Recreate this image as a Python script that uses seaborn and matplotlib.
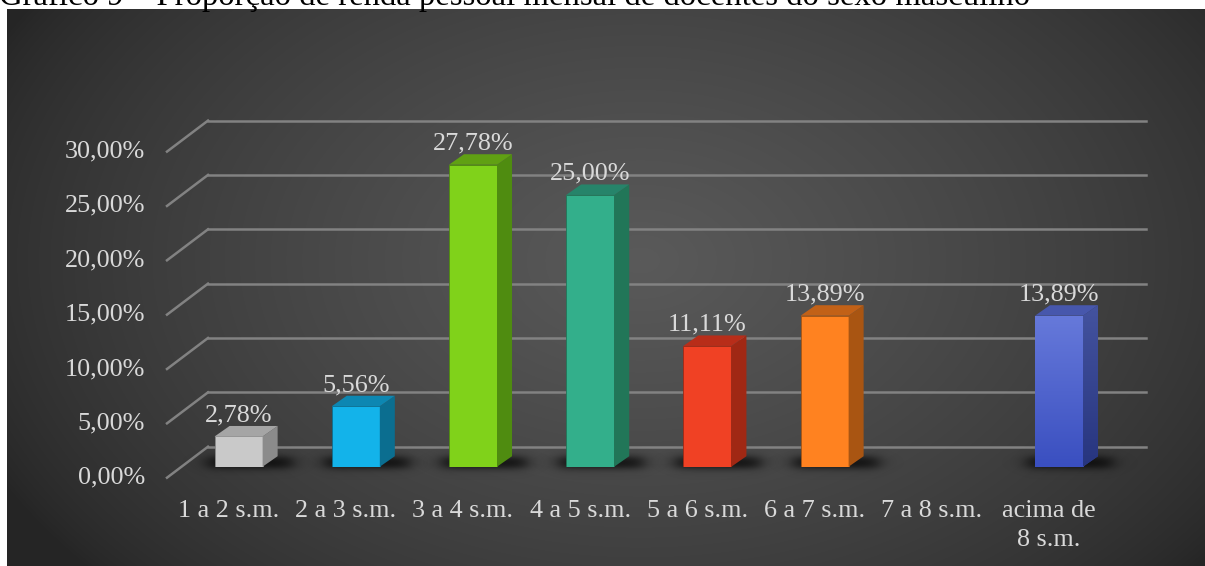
import numpy as np
import pandas as pd
import matplotlib
matplotlib.use("Agg")
import matplotlib.pyplot as plt
import seaborn as sns
from matplotlib.patches import Polygon
import matplotlib.transforms as mtransforms

# ---------------- data ----------------
categories = ["1 a 2 s.m.", "2 a 3 s.m.", "3 a 4 s.m.", "4 a 5 s.m.",
              "5 a 6 s.m.", "6 a 7 s.m.", "7 a 8 s.m.", "acima de\n8 s.m."]
values = [2.78, 5.56, 27.78, 25.00, 11.11, 13.89, 0.0, 13.89]
value_labels = ["2,78%", "5,56%", "27,78%", "25,00%", "11,11%", "13,89%", "", "13,89%"]
front_colors = ["#c9c9c9", "#13b3ea", "#80d21a", "#33af8b", "#f04124", "#ff8220", "#888888", "#5568d0"]
side_colors = ["#8b8b8b", "#0b6e90", "#4f8c10", "#217658", "#a02814", "#a95512", "#555555", "#2e3d92"]
top_colors = ["#a5a5a5", "#0d87b2", "#60a013", "#26846a", "#b82d19", "#c26117", "#666666", "#4757ac"]
yticks = [0, 5, 10, 15, 20, 25, 30]
ytick_labels = ["0,00%", "5,00%", "10,00%", "15,00%", "20,00%", "25,00%", "30,00%"]
title = "Gráfico 9 – Proporção de renda pessoal mensal de docentes do sexo masculino"

W, H = 1205, 566
SERIF = "Liberation Serif"
TXT = "#d9d9d9"
FS = 18.8

fig = plt.figure(figsize=(W / 100, H / 100), dpi=100)
fig.patch.set_facecolor("white")

# ---------------- background (radial gradient) ----------------
bg = fig.add_axes([7 / W, 0, (W - 7) / W, (H - 9) / H], zorder=0)
bg.set_axis_off()
h, w = H - 9, W - 7
yy, xx = np.mgrid[0:h, 0:w]
X = xx + 7
Y = yy + 9
r = np.sqrt(((X - 640) / 720.0) ** 2 + ((Y - 260) / 480.0) ** 2)
v = (37 + (90 - 37) * np.clip(1 - r, 0, 1) ** 0.7) / 255.0
bg.imshow(np.dstack([v, v, v]), aspect="auto", interpolation="bilinear")

# ---------------- main axes (bar front plane) ----------------
x0_px, y0_px = 180.0, 466.7
cat_w = 117.2
px_per_pct = 10.87
ax = fig.add_axes([x0_px / W, (H - y0_px) / H, 8 * cat_w / W, 30 * px_per_pct / H], zorder=1)
ax.patch.set_alpha(0)

df = pd.DataFrame({"cat": categories, "val": values})
sns.barplot(data=df, x="cat", y="val", hue="cat", order=categories,
            palette=dict(zip(categories, front_colors)), saturation=1,
            width=0.41, legend=False, ax=ax, zorder=4, linewidth=0)
ax.set_xlim(-0.5, 7.5)
ax.set_ylim(0, 30)
ax.set_autoscale_on(False)
for s in ax.spines.values():
    s.set_visible(False)
ax.set_xticks([])
ax.set_yticks([])
ax.set_xlabel("")
ax.set_ylabel("")

ident = mtransforms.IdentityTransform()
# 3D offsets in pixels (matplotlib y up)
BACK = (28.0, 20.0)
FRONT = (-13.0, -11.0)
DEPTH = (15.0, 10.5)
GRID_C = "#828282"

ytr = ax.get_yaxis_transform()
for t, lab in zip(yticks, ytick_labels):
    bx, by = ytr.transform((0, t))
    bx1, _ = ytr.transform((1, t))
    ax.add_line(plt.Line2D([bx + BACK[0], bx1 + BACK[0]], [by + BACK[1], by + BACK[1]],
                           transform=ident, color=GRID_C, lw=1.8, zorder=1, clip_on=False))
    ax.add_line(plt.Line2D([bx + FRONT[0], bx + BACK[0]], [by + FRONT[1], by + BACK[1]],
                           transform=ident, color=GRID_C, lw=1.8, zorder=1, clip_on=False))
    ax.text(bx - 35, by + FRONT[1], lab, transform=ident, ha="right", va="center",
            fontsize=FS, family=SERIF, color=TXT, clip_on=False)

# category labels
xtr = ax.get_xaxis_transform()
for i, c in enumerate(categories):
    cx, cy = xtr.transform((i, 0))
    ax.text(cx - 10, cy - 33, c, transform=ident, ha="center", va="top",
            multialignment="center", linespacing=1.45,
            fontsize=FS, family=SERIF, color=TXT, clip_on=False)


def soft_box(xs, x1, x2, s):
    return 0.5 * (np.tanh((xs - x1) / s) - np.tanh((xs - x2) / s))


# 3D faces, shadows and value labels
bars = [p for p in ax.patches]
for i, p in enumerate(bars):
    (l, b) = ax.transData.transform((p.get_x(), 0))
    (rr, tt) = ax.transData.transform((p.get_x() + p.get_width(), p.get_height()))
    if values[i] <= 0:
        p.set_visible(False)
        continue
    dx, dy = DEPTH
    # soft shadow behind the bar base
    gx0, gx1 = l - 50, rr + dx + 55
    gy0, gy1 = b - 25, b + 35
    gxs = np.linspace(gx0, gx1, int(gx1 - gx0))
    gys = np.linspace(gy0, gy1, int(gy1 - gy0))
    ax_ = soft_box(gxs, l - 8, rr + dx + 14, 10.0)
    ay_ = soft_box(gys, b - 1.0, b + 10, 4.5)
    alpha = 0.8 * np.outer(ay_, ax_)
    simg = np.zeros(alpha.shape + (4,))
    simg[..., 3] = alpha
    shadow = ax.imshow(simg, origin="lower", extent=(0, 1, 0, 1), interpolation="bilinear",
                       zorder=2, aspect="auto")
    shadow.set_transform(mtransforms.BboxTransformTo(mtransforms.Bbox([[gx0, gy0], [gx1, gy1]])))
    shadow.set_clip_on(False)

    side = Polygon([(rr, b), (rr + dx, b + dy), (rr + dx, tt + dy), (rr, tt)], closed=True,
                   transform=ident, facecolor=side_colors[i], edgecolor="none", zorder=4, clip_on=False)
    top = Polygon([(l, tt), (l + dx, tt + dy), (rr + dx, tt + dy), (rr, tt)], closed=True,
                  transform=ident, facecolor=top_colors[i], edgecolor="none", zorder=4, clip_on=False)
    ax.add_patch(side)
    ax.add_patch(top)
    p.set_edgecolor(side_colors[i])
    p.set_linewidth(0.6)
    if i == 7:
        grad = np.linspace(0, 1, 100)[:, None]
        c_top = np.array(matplotlib.colors.to_rgb("#6679da"))
        c_bot = np.array(matplotlib.colors.to_rgb("#3a4fc0"))
        gimg = c_top[None, None, :] * (1 - grad[..., None]) + c_bot[None, None, :] * grad[..., None]
        gimg = np.repeat(gimg, 2, axis=1)
        im = ax.imshow(gimg, extent=(p.get_x(), p.get_x() + p.get_width(), 0, p.get_height()),
                       aspect="auto", zorder=4.5, interpolation="bilinear")
        im.set_clip_path(p)
        sgrad = np.array(matplotlib.colors.to_rgb("#44539f")) * (1 - grad[..., None]) + \
            np.array(matplotlib.colors.to_rgb("#27357f")) * grad[..., None]
        simg2 = np.repeat(sgrad, 2, axis=1)
        sim = ax.imshow(simg2, extent=(0, 1, 0, 1), aspect="auto", zorder=4.5, interpolation="bilinear")
        sim.set_transform(mtransforms.BboxTransformTo(mtransforms.Bbox([[rr, b], [rr + dx, tt + dy]])))
        sim.set_clip_path(side)
    ax.text((l + rr) / 2, tt + 15, value_labels[i], transform=ident, ha="center", va="baseline",
            fontsize=FS, family=SERIF, color=TXT, clip_on=False, zorder=6)

ax.set_xlim(-0.5, 7.5)
ax.set_ylim(0, 30)

# ---------------- cut-off title at top (as in the reference) ----------------
tt_ = fig.text(-0.001, 1 - 4.5 / H, title, ha="left", va="baseline", fontsize=22,
               family=SERIF, color="black", zorder=10)
renderer = fig.canvas.get_renderer()
wext = tt_.get_window_extent(renderer).width
tt_.set_fontsize(22 * 1028.0 / wext)

fig.savefig("out.png", dpi=100)
